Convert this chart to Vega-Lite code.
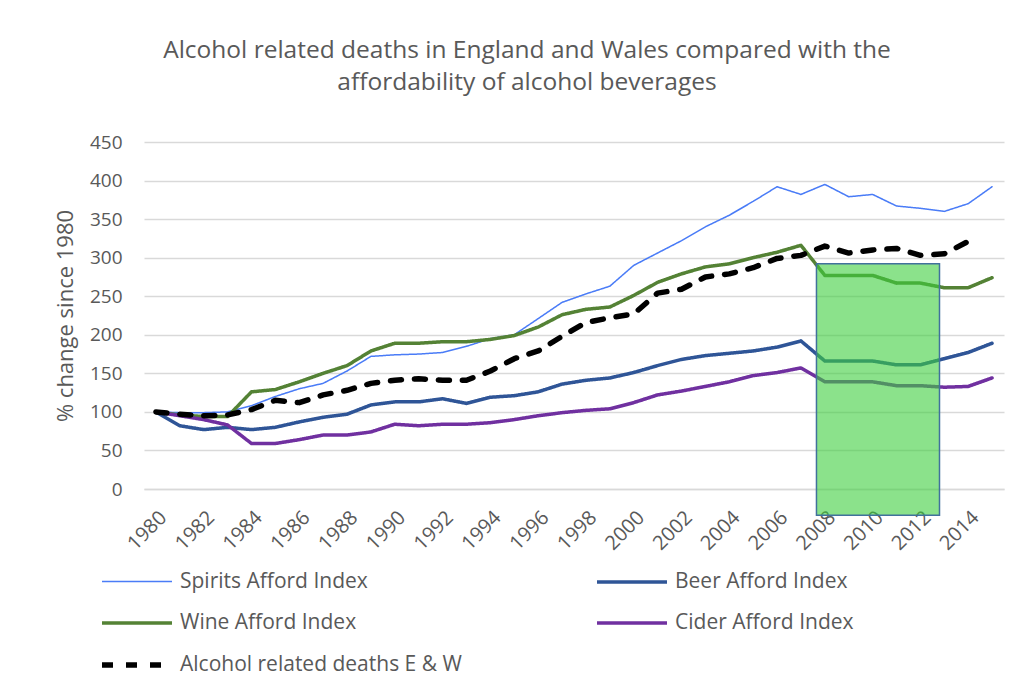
{
  "$schema": "https://vega.github.io/schema/vega-lite/v6.json",
  "autosize": {"type": "none"},
  "width": 860,
  "height": 347,
  "padding": {"left": 144, "top": 142, "right": 25, "bottom": 197},
  "background": "white",
  "config": {
    "font": "Open Sans",
    "view": {"stroke": null},
    "title": {"font": "Open Sans", "fontSize": 24.5, "fontWeight": "normal", "color": "#595959", "lineHeight": 32}
  },
  "title": {
    "text": ["Alcohol related deaths in England and Wales compared with the", "affordability of alcohol beverages"],
    "anchor": "middle",
    "frame": "group",
    "dx": -47,
    "offset": 38
  },
  "datasets": {
    "series": [
      {"year": 1980, "series": "Spirits Afford Index", "value": 100},
      {"year": 1981, "series": "Spirits Afford Index", "value": 99},
      {"year": 1982, "series": "Spirits Afford Index", "value": 99},
      {"year": 1983, "series": "Spirits Afford Index", "value": 100},
      {"year": 1984, "series": "Spirits Afford Index", "value": 108},
      {"year": 1985, "series": "Spirits Afford Index", "value": 120},
      {"year": 1986, "series": "Spirits Afford Index", "value": 130},
      {"year": 1987, "series": "Spirits Afford Index", "value": 137},
      {"year": 1988, "series": "Spirits Afford Index", "value": 153},
      {"year": 1989, "series": "Spirits Afford Index", "value": 172},
      {"year": 1990, "series": "Spirits Afford Index", "value": 174},
      {"year": 1991, "series": "Spirits Afford Index", "value": 175},
      {"year": 1992, "series": "Spirits Afford Index", "value": 177},
      {"year": 1993, "series": "Spirits Afford Index", "value": 185},
      {"year": 1994, "series": "Spirits Afford Index", "value": 195},
      {"year": 1995, "series": "Spirits Afford Index", "value": 200},
      {"year": 1996, "series": "Spirits Afford Index", "value": 221},
      {"year": 1997, "series": "Spirits Afford Index", "value": 242},
      {"year": 1998, "series": "Spirits Afford Index", "value": 253},
      {"year": 1999, "series": "Spirits Afford Index", "value": 263},
      {"year": 2000, "series": "Spirits Afford Index", "value": 290},
      {"year": 2001, "series": "Spirits Afford Index", "value": 306},
      {"year": 2002, "series": "Spirits Afford Index", "value": 322},
      {"year": 2003, "series": "Spirits Afford Index", "value": 340},
      {"year": 2004, "series": "Spirits Afford Index", "value": 355},
      {"year": 2005, "series": "Spirits Afford Index", "value": 373},
      {"year": 2006, "series": "Spirits Afford Index", "value": 392},
      {"year": 2007, "series": "Spirits Afford Index", "value": 382},
      {"year": 2008, "series": "Spirits Afford Index", "value": 395},
      {"year": 2009, "series": "Spirits Afford Index", "value": 379},
      {"year": 2010, "series": "Spirits Afford Index", "value": 382},
      {"year": 2011, "series": "Spirits Afford Index", "value": 367},
      {"year": 2012, "series": "Spirits Afford Index", "value": 364},
      {"year": 2013, "series": "Spirits Afford Index", "value": 360},
      {"year": 2014, "series": "Spirits Afford Index", "value": 370},
      {"year": 2015, "series": "Spirits Afford Index", "value": 392},
      {"year": 1980, "series": "Beer Afford Index", "value": 100},
      {"year": 1981, "series": "Beer Afford Index", "value": 82},
      {"year": 1982, "series": "Beer Afford Index", "value": 77},
      {"year": 1983, "series": "Beer Afford Index", "value": 80},
      {"year": 1984, "series": "Beer Afford Index", "value": 77},
      {"year": 1985, "series": "Beer Afford Index", "value": 80},
      {"year": 1986, "series": "Beer Afford Index", "value": 87},
      {"year": 1987, "series": "Beer Afford Index", "value": 93},
      {"year": 1988, "series": "Beer Afford Index", "value": 97},
      {"year": 1989, "series": "Beer Afford Index", "value": 109},
      {"year": 1990, "series": "Beer Afford Index", "value": 113},
      {"year": 1991, "series": "Beer Afford Index", "value": 113},
      {"year": 1992, "series": "Beer Afford Index", "value": 117},
      {"year": 1993, "series": "Beer Afford Index", "value": 111},
      {"year": 1994, "series": "Beer Afford Index", "value": 119},
      {"year": 1995, "series": "Beer Afford Index", "value": 121},
      {"year": 1996, "series": "Beer Afford Index", "value": 126},
      {"year": 1997, "series": "Beer Afford Index", "value": 136},
      {"year": 1998, "series": "Beer Afford Index", "value": 141},
      {"year": 1999, "series": "Beer Afford Index", "value": 144},
      {"year": 2000, "series": "Beer Afford Index", "value": 151},
      {"year": 2001, "series": "Beer Afford Index", "value": 160},
      {"year": 2002, "series": "Beer Afford Index", "value": 168},
      {"year": 2003, "series": "Beer Afford Index", "value": 173},
      {"year": 2004, "series": "Beer Afford Index", "value": 176},
      {"year": 2005, "series": "Beer Afford Index", "value": 179},
      {"year": 2006, "series": "Beer Afford Index", "value": 184},
      {"year": 2007, "series": "Beer Afford Index", "value": 192},
      {"year": 2008, "series": "Beer Afford Index", "value": 166},
      {"year": 2009, "series": "Beer Afford Index", "value": 166},
      {"year": 2010, "series": "Beer Afford Index", "value": 166},
      {"year": 2011, "series": "Beer Afford Index", "value": 161},
      {"year": 2012, "series": "Beer Afford Index", "value": 161},
      {"year": 2013, "series": "Beer Afford Index", "value": 169},
      {"year": 2014, "series": "Beer Afford Index", "value": 177},
      {"year": 2015, "series": "Beer Afford Index", "value": 189},
      {"year": 1980, "series": "Wine Afford Index", "value": 100},
      {"year": 1981, "series": "Wine Afford Index", "value": 96},
      {"year": 1982, "series": "Wine Afford Index", "value": 94},
      {"year": 1983, "series": "Wine Afford Index", "value": 94},
      {"year": 1984, "series": "Wine Afford Index", "value": 126},
      {"year": 1985, "series": "Wine Afford Index", "value": 129},
      {"year": 1986, "series": "Wine Afford Index", "value": 139},
      {"year": 1987, "series": "Wine Afford Index", "value": 150},
      {"year": 1988, "series": "Wine Afford Index", "value": 160},
      {"year": 1989, "series": "Wine Afford Index", "value": 179},
      {"year": 1990, "series": "Wine Afford Index", "value": 189},
      {"year": 1991, "series": "Wine Afford Index", "value": 189},
      {"year": 1992, "series": "Wine Afford Index", "value": 191},
      {"year": 1993, "series": "Wine Afford Index", "value": 191},
      {"year": 1994, "series": "Wine Afford Index", "value": 194},
      {"year": 1995, "series": "Wine Afford Index", "value": 199},
      {"year": 1996, "series": "Wine Afford Index", "value": 210},
      {"year": 1997, "series": "Wine Afford Index", "value": 226},
      {"year": 1998, "series": "Wine Afford Index", "value": 233},
      {"year": 1999, "series": "Wine Afford Index", "value": 236},
      {"year": 2000, "series": "Wine Afford Index", "value": 251},
      {"year": 2001, "series": "Wine Afford Index", "value": 268},
      {"year": 2002, "series": "Wine Afford Index", "value": 279},
      {"year": 2003, "series": "Wine Afford Index", "value": 288},
      {"year": 2004, "series": "Wine Afford Index", "value": 292},
      {"year": 2005, "series": "Wine Afford Index", "value": 300},
      {"year": 2006, "series": "Wine Afford Index", "value": 307},
      {"year": 2007, "series": "Wine Afford Index", "value": 316},
      {"year": 2008, "series": "Wine Afford Index", "value": 277},
      {"year": 2009, "series": "Wine Afford Index", "value": 277},
      {"year": 2010, "series": "Wine Afford Index", "value": 277},
      {"year": 2011, "series": "Wine Afford Index", "value": 267},
      {"year": 2012, "series": "Wine Afford Index", "value": 267},
      {"year": 2013, "series": "Wine Afford Index", "value": 261},
      {"year": 2014, "series": "Wine Afford Index", "value": 261},
      {"year": 2015, "series": "Wine Afford Index", "value": 274},
      {"year": 1980, "series": "Cider Afford Index", "value": 100},
      {"year": 1981, "series": "Cider Afford Index", "value": 95},
      {"year": 1982, "series": "Cider Afford Index", "value": 90},
      {"year": 1983, "series": "Cider Afford Index", "value": 83},
      {"year": 1984, "series": "Cider Afford Index", "value": 59},
      {"year": 1985, "series": "Cider Afford Index", "value": 59},
      {"year": 1986, "series": "Cider Afford Index", "value": 64},
      {"year": 1987, "series": "Cider Afford Index", "value": 70},
      {"year": 1988, "series": "Cider Afford Index", "value": 70},
      {"year": 1989, "series": "Cider Afford Index", "value": 74},
      {"year": 1990, "series": "Cider Afford Index", "value": 84},
      {"year": 1991, "series": "Cider Afford Index", "value": 82},
      {"year": 1992, "series": "Cider Afford Index", "value": 84},
      {"year": 1993, "series": "Cider Afford Index", "value": 84},
      {"year": 1994, "series": "Cider Afford Index", "value": 86},
      {"year": 1995, "series": "Cider Afford Index", "value": 90},
      {"year": 1996, "series": "Cider Afford Index", "value": 95},
      {"year": 1997, "series": "Cider Afford Index", "value": 99},
      {"year": 1998, "series": "Cider Afford Index", "value": 102},
      {"year": 1999, "series": "Cider Afford Index", "value": 104},
      {"year": 2000, "series": "Cider Afford Index", "value": 112},
      {"year": 2001, "series": "Cider Afford Index", "value": 122},
      {"year": 2002, "series": "Cider Afford Index", "value": 127},
      {"year": 2003, "series": "Cider Afford Index", "value": 133},
      {"year": 2004, "series": "Cider Afford Index", "value": 139},
      {"year": 2005, "series": "Cider Afford Index", "value": 147},
      {"year": 2006, "series": "Cider Afford Index", "value": 151},
      {"year": 2007, "series": "Cider Afford Index", "value": 157},
      {"year": 2008, "series": "Cider Afford Index", "value": 139},
      {"year": 2009, "series": "Cider Afford Index", "value": 139},
      {"year": 2010, "series": "Cider Afford Index", "value": 139},
      {"year": 2011, "series": "Cider Afford Index", "value": 134},
      {"year": 2012, "series": "Cider Afford Index", "value": 134},
      {"year": 2013, "series": "Cider Afford Index", "value": 132},
      {"year": 2014, "series": "Cider Afford Index", "value": 133},
      {"year": 2015, "series": "Cider Afford Index", "value": 144},
      {"year": 1980, "series": "Alcohol related deaths E & W", "value": 100},
      {"year": 1981, "series": "Alcohol related deaths E & W", "value": 97},
      {"year": 1982, "series": "Alcohol related deaths E & W", "value": 95},
      {"year": 1983, "series": "Alcohol related deaths E & W", "value": 96},
      {"year": 1984, "series": "Alcohol related deaths E & W", "value": 103},
      {"year": 1985, "series": "Alcohol related deaths E & W", "value": 115},
      {"year": 1986, "series": "Alcohol related deaths E & W", "value": 112},
      {"year": 1987, "series": "Alcohol related deaths E & W", "value": 122},
      {"year": 1988, "series": "Alcohol related deaths E & W", "value": 128},
      {"year": 1989, "series": "Alcohol related deaths E & W", "value": 137},
      {"year": 1990, "series": "Alcohol related deaths E & W", "value": 141},
      {"year": 1991, "series": "Alcohol related deaths E & W", "value": 143},
      {"year": 1992, "series": "Alcohol related deaths E & W", "value": 141},
      {"year": 1993, "series": "Alcohol related deaths E & W", "value": 141},
      {"year": 1994, "series": "Alcohol related deaths E & W", "value": 153},
      {"year": 1995, "series": "Alcohol related deaths E & W", "value": 169},
      {"year": 1996, "series": "Alcohol related deaths E & W", "value": 179},
      {"year": 1997, "series": "Alcohol related deaths E & W", "value": 198},
      {"year": 1998, "series": "Alcohol related deaths E & W", "value": 216},
      {"year": 1999, "series": "Alcohol related deaths E & W", "value": 222},
      {"year": 2000, "series": "Alcohol related deaths E & W", "value": 227},
      {"year": 2001, "series": "Alcohol related deaths E & W", "value": 254},
      {"year": 2002, "series": "Alcohol related deaths E & W", "value": 259},
      {"year": 2003, "series": "Alcohol related deaths E & W", "value": 275},
      {"year": 2004, "series": "Alcohol related deaths E & W", "value": 279},
      {"year": 2005, "series": "Alcohol related deaths E & W", "value": 287},
      {"year": 2006, "series": "Alcohol related deaths E & W", "value": 299},
      {"year": 2007, "series": "Alcohol related deaths E & W", "value": 303},
      {"year": 2008, "series": "Alcohol related deaths E & W", "value": 315},
      {"year": 2009, "series": "Alcohol related deaths E & W", "value": 306},
      {"year": 2010, "series": "Alcohol related deaths E & W", "value": 310},
      {"year": 2011, "series": "Alcohol related deaths E & W", "value": 312},
      {"year": 2012, "series": "Alcohol related deaths E & W", "value": 303},
      {"year": 2013, "series": "Alcohol related deaths E & W", "value": 305},
      {"year": 2014, "series": "Alcohol related deaths E & W", "value": 321}
    ],
    "box": [
      {"start": 2007.65, "end": 2012.8, "low": -34, "high": 292}
    ]
  },
  "layer": [
    {
      "data": {"name": "series"},
      "mark": {"type": "line", "strokeCap": "round", "strokeJoin": "round"},
      "encoding": {
        "x": {
          "field": "year", "type": "quantitative",
          "scale": {"domain": [1979.5, 2015.5], "nice": false, "zero": false},
          "axis": {
            "title": null,
            "values": [1980, 1982, 1984, 1986, 1988, 1990, 1992, 1994, 1996, 1998, 2000, 2002, 2004, 2006, 2008, 2010, 2012, 2014],
            "format": "d",
            "labelAngle": -45,
            "labelFontSize": 20,
            "labelColor": "#595959",
            "labelPadding": 18,
            "labelOverlap": false,
            "labelFlush": false,
            "labelBound": false,
            "grid": false,
            "ticks": false,
            "domain": true,
            "domainColor": "#d9d9d9",
            "domainWidth": 1.3
          }
        },
        "y": {
          "field": "value", "type": "quantitative",
          "scale": {"domain": [0, 450], "nice": false},
          "axis": {
            "title": "% change since 1980",
            "titleFontSize": 22,
            "titleFontWeight": "normal",
            "titleColor": "#595959",
            "titlePadding": 12,
            "values": [0, 50, 100, 150, 200, 250, 300, 350, 400, 450],
            "labelFontSize": 19,
            "labelColor": "#595959",
            "labelPadding": 22,
            "labelOverlap": false,
            "domain": false,
            "ticks": false,
            "grid": true,
            "gridColor": "#d9d9d9",
            "gridWidth": 1.3
          }
        },
        "color": {
          "field": "series", "type": "nominal",
          "scale": {
            "domain": ["Spirits Afford Index", "Beer Afford Index", "Wine Afford Index", "Cider Afford Index", "Alcohol related deaths E & W"],
            "range": ["#4a7cf7", "#2f5597", "#548235", "#7030a0", "#000000"]
          },
          "legend": {
            "title": null,
            "orient": "none",
            "direction": "horizontal",
            "legendX": -20,
            "legendY": 428,
            "columns": 2,
            "columnPadding": 128,
            "rowPadding": 19,
            "padding": 0,
            "symbolType": "M-3.5,0H3.5",
            "symbolSize": 400,
            "symbolOffset": 0,
            "labelOffset": 30,
            "labelFontSize": 21,
            "labelColor": "#595959",
            "labelLimit": 400
          }
        },
        "strokeDash": {
          "field": "series", "type": "nominal",
          "scale": {
            "domain": ["Spirits Afford Index", "Beer Afford Index", "Wine Afford Index", "Cider Afford Index", "Alcohol related deaths E & W"],
            "range": [[1, 0], [1, 0], [1, 0], [1, 0], [11, 13]]
          },
          "legend": null
        },
        "strokeWidth": {
          "field": "series", "type": "nominal",
          "scale": {
            "type": "ordinal",
            "domain": ["Spirits Afford Index", "Beer Afford Index", "Wine Afford Index", "Cider Afford Index", "Alcohol related deaths E & W"],
            "range": [1.5, 3.5, 3.5, 3.5, 5.5]
          },
          "legend": null
        }
      }
    },
    {
      "data": {"name": "box"},
      "mark": {"type": "rect", "fill": "#3ecf3e", "fillOpacity": 0.6, "stroke": "#41719c", "strokeWidth": 1.5},
      "encoding": {
        "x": {
          "field": "start", "type": "quantitative",
          "axis": {
            "title": null,
            "values": [1980, 1982, 1984, 1986, 1988, 1990, 1992, 1994, 1996, 1998, 2000, 2002, 2004, 2006, 2008, 2010, 2012, 2014],
            "format": "d",
            "labelAngle": -45,
            "labelFontSize": 20,
            "labelColor": "#595959",
            "labelPadding": 18,
            "labelOverlap": false,
            "labelFlush": false,
            "labelBound": false,
            "grid": false,
            "ticks": false,
            "domain": true,
            "domainColor": "#d9d9d9",
            "domainWidth": 1.3
          }
        },
        "x2": {"field": "end"},
        "y": {
          "field": "low", "type": "quantitative",
          "axis": {
            "title": "% change since 1980",
            "titleFontSize": 22,
            "titleFontWeight": "normal",
            "titleColor": "#595959",
            "titlePadding": 12,
            "values": [0, 50, 100, 150, 200, 250, 300, 350, 400, 450],
            "labelFontSize": 19,
            "labelColor": "#595959",
            "labelPadding": 22,
            "labelOverlap": false,
            "domain": false,
            "ticks": false,
            "grid": true,
            "gridColor": "#d9d9d9",
            "gridWidth": 1.3
          }
        },
        "y2": {"field": "high"}
      }
    }
  ]
}
